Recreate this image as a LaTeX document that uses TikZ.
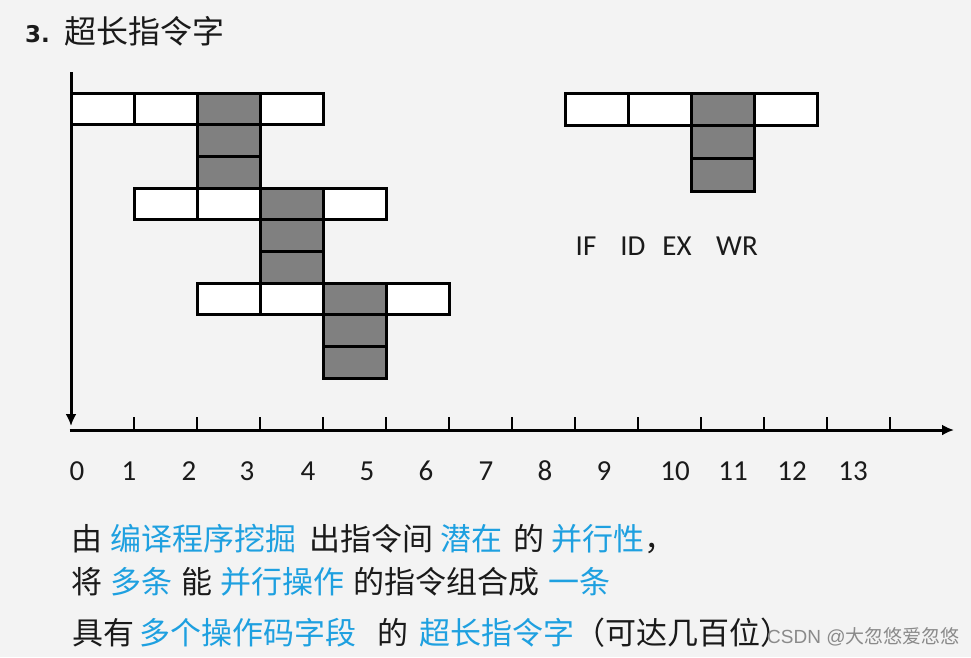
\documentclass[tikz,border=0pt]{standalone}
\usepackage{fontspec}
\setmainfont{Carlito}
\newfontfamily\cjk{Noto Sans CJK SC}
\newfontfamily\ttl{DejaVu Sans}
\newfontfamily\wm{Liberation Sans}
\usetikzlibrary{arrows.meta}
\definecolor{bg}{HTML}{F3F3F3}
\definecolor{hl}{HTML}{1EA0E0}
\definecolor{ink}{HTML}{1A1A1A}
\definecolor{stagegray}{HTML}{808080}
\definecolor{wmgray}{HTML}{8A8A8A}
\begin{document}
\begin{tikzpicture}[x=1pt,y=-1pt,
  cell/.style={draw=black, line width=3pt, fill=white},
  gcell/.style={cell, fill=stagegray},
  axisline/.style={line width=3pt, -{Latex[length=12pt,width=11pt]}},
  tickline/.style={line width=2.5pt},
  num/.style={font=\fontsize{29}{29}\selectfont, text=ink, inner sep=0pt, anchor=base},
  txt/.style={font=\cjk\fontsize{31}{31}\selectfont, text=ink, inner sep=0pt, anchor=base west},
  hltxt/.style={txt, text=hl}]
\fill[bg] (0,0) rectangle (971,657);
\useasboundingbox (0,0) rectangle (971,657);

% title
\node[anchor=base west, inner sep=0pt, text=ink, font=\ttl\bfseries\fontsize{23}{23}\selectfont] (tnum) at (25,42) {3.};
\node[anchor=base west, inner sep=0pt, text=ink, font=\cjk\fontsize{32}{32}\selectfont] (ttext) at (64,43) {超长指令字};

% left pipeline block
\foreach \r/\c in {0/0,0/1,0/3, 3/1,3/2,3/4, 6/2,6/3,6/5}
  \draw[cell] ({71+63*\c},{93+31.67*\r}) rectangle ++(63,31.67);
\foreach \r/\c in {0/2,1/2,2/2, 3/3,4/3,5/3, 6/4,7/4,8/4}
  \draw[gcell] ({71+63*\c},{93+31.67*\r}) rectangle ++(63,31.67);

% right legend block
\foreach \c in {0,1,3}
  \draw[cell] ({565+63*\c},93) rectangle ++(63,32.8);
\foreach \r in {0,1,2}
  \draw[gcell] (691,{93+32.8*\r}) rectangle ++(63,32.8);

\node[num] (lif) at (586,255) {IF};
\node[num] (lid) at (633,255) {ID};
\node[num] (lex) at (677,255) {EX};
\node[num] (lwr) at (737,255) {WR};

% axes
\coordinate (ytop) at (71,72);
\coordinate (ybot) at (71,426);
\coordinate (xorg) at (69.5,430);
\coordinate (xend) at (954,430);
\draw[axisline] (ytop) -- (ybot);
\draw[axisline] (xorg) -- (xend);
\foreach \k in {1,...,13}
  \draw[tickline] ({71+63*\k},417) -- ({71+63*\k},430);

\foreach \k/\x in {0/77,1/129,2/189,3/247,4/308,5/367,6/426,7/486,8/545,9/604,10/675,11/733,12/792,13/853}
  \node[num] (n\k) at (\x,480) {\k};

% bottom text
\node[txt]   (a1) at (71.5,550) {由};
\node[hltxt] (a2) at (110.5,550) {编译程序挖掘};
\node[txt]   (a3) at (309,550) {出指令间};
\node[hltxt] (a4) at (440,550) {潜在};
\node[txt]   (a5) at (513.5,550) {的};
\node[hltxt] (a6) at (551,550) {并行性};
\node[txt]   (a7) at (a6.base east) {，};

\node[txt]   (b1) at (71,593) {将};
\node[hltxt] (b2) at (110.5,593) {多条};
\node[txt]   (b3) at (181.5,593) {能};
\node[hltxt] (b4) at (220,593) {并行操作};
\node[txt]   (b5) at (353.5,593) {的指令组合成};
\node[hltxt] (b6) at (548.5,593) {一条};

\node[txt]   (c1) at (72,644) {具有};
\node[hltxt] (c2) at (139,644) {多个操作码字段};
\node[txt]   (c3) at (377,644) {的};
\node[hltxt] (c4) at (419,644) {超长指令字};
\node[txt]   (c5) at (c4.base east) {（可达几百位）};

\node[anchor=base west, inner sep=0pt, text=wmgray, font=\wm\fontsize{19}{19}\selectfont] (wmark) at (767,643) {CSDN @{\cjk 大忽悠爱忽悠}};
\end{tikzpicture}
\end{document}
